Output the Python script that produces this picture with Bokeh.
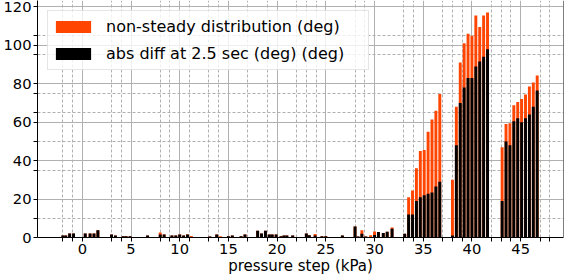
from bokeh.plotting import figure
from bokeh.models import (ColumnDataSource, FixedTicker, Legend, LegendItem, Span, Range1d)
from bokeh.embed import file_html
from bokeh.resources import INLINE

# ---------------- data ----------------
pressure = [-2.0, -1.7, -1.3, -0.9, 0.3, 0.8, 1.2, 1.6, 3.0, 3.4, 4.2, 4.5, 4.9, 6.7,
            8.0, 8.4, 9.2, 9.6, 10.0, 10.4, 10.8, 11.2, 13.1, 13.8, 14.2, 15.0, 15.4,
            16.3, 16.7, 18.0, 18.4, 18.8, 19.2, 19.5, 19.9, 20.4, 20.7, 21.0, 21.6,
            23.0, 23.3, 23.9, 24.6, 25.0, 25.4, 26.7, 28.0, 28.3, 28.7, 29.1, 29.6,
            30.0, 30.4, 30.9, 31.3, 31.8, 33.1,
            33.5, 33.9, 34.3, 34.7, 35.1, 35.5, 35.9, 36.3, 36.7,
            38.0, 38.4, 38.8, 39.2, 39.6, 40.0, 40.4, 40.8, 41.2, 41.6,
            43.1, 43.5, 43.9, 44.3, 44.7, 45.1, 45.5, 45.9, 46.3, 46.7]

non_steady = [1.0, 1.0, 2.1, 2.1, 2.1, 2.1, 2.1, 3.8, 1.6, 1.0, 0.7, 0.7, 0.7, 1.0,
              2.6, 1.6, 1.0, 1.0, 1.6, 1.0, 1.6, 0.8, 0.5, 1.6, 0.6, 0.7, 1.0,
              0.7, 1.6, 3.5, 2.1, 3.5, 1.6, 1.6, 1.6, 0.7, 1.0, 1.0, 1.0,
              2.1, 1.2, 1.8, 0.7, 0.7, 0.3, 1.0, 5.7, 0.5, 3.8, 0.5, 1.2,
              3.1, 2.8, 2.4, 3.0, 5.2, 1.9,
              21.0, 24.5, 36.0, 45.0, 45.5, 55.0, 61.4, 66.0, 74.6,
              30.0, 68.0, 91.0, 101.0, 106.0, 105.0, 115.5, 109.5, 115.5, 117.0,
              47.0, 59.0, 59.5, 68.8, 70.5, 72.0, 74.4, 78.6, 80.7, 84.3]

abs_diff = [1.0, 1.0, 2.1, 2.1, 2.1, 2.1, 2.1, 3.8, 1.6, 1.0, 0.7, 0.7, 0.7, 1.0,
            1.6, 1.6, 1.0, 1.0, 1.6, 1.0, 1.6, 0.2, 0.5, 1.6, 0.2, 0.7, 1.0,
            0.7, 1.6, 3.5, 2.1, 3.5, 1.6, 1.6, 1.6, 0.7, 1.0, 1.0, 1.0,
            2.1, 1.2, 1.0, 0.7, 0.7, 0.3, 1.0, 5.7, 0.5, 1.9, 0.5, 0.3,
            1.3, 2.8, 2.4, 3.0, 4.5, 1.9,
            12.0, 12.0, 19.0, 21.0, 22.0, 22.7, 23.4, 26.5, 29.0,
            1.0, 48.0, 70.0, 78.0, 83.0, 83.0, 89.0, 91.6, 94.0, 98.0,
            19.0, 50.0, 48.0, 60.5, 62.0, 60.0, 62.0, 64.0, 68.0, 76.5]

x_ticks = [0, 5, 10, 15, 20, 25, 30, 35, 40, 45]
x_minor_ticks = [-2, -1, 3, 4, 8, 9, 11, 13, 14, 17, 19, 22, 23, 24, 28, 29,
                 33, 34, 37, 38, 39, 42, 43, 44, 47, 48]
y_ticks = [0, 20, 40, 60, 80, 100, 120]
y_minor_ticks = [10, 35, 50, 65, 75, 95, 105]

series_labels = ["non-steady distribution (deg)", "abs diff at 2.5 sec (deg) (deg)"]
x_label = "pressure step (kPa)"

# ---------------- figure ----------------
x_start, x_end = -4.6, 49.4
y_start, y_end = 0, 123.3
FONT = "DejaVu Sans"
GRID = "#b0b0b0"

p = figure(width=564, height=278, output_backend="svg", toolbar_location=None,
           x_range=Range1d(x_start, x_end), y_range=Range1d(y_start, y_end),
           min_border_left=35, min_border_right=1, min_border_top=0, min_border_bottom=41)
p.outline_line_color = None
p.background_fill_color = "white"
p.border_fill_color = "white"

xt = FixedTicker(ticks=x_ticks, minor_ticks=x_minor_ticks)
yt = FixedTicker(ticks=y_ticks, minor_ticks=y_minor_ticks)
p.xaxis.ticker = xt
p.yaxis.ticker = yt
p.xgrid.ticker = xt
p.ygrid.ticker = yt

for g in (p.xgrid, p.ygrid):
    g.grid_line_color = GRID
    g.grid_line_width = 1
    g.minor_grid_line_color = GRID
    g.minor_grid_line_width = 1
    g.minor_grid_line_dash = "3 2"

for ax in (p.xaxis, p.yaxis):
    ax.axis_line_color = "black"
    ax.axis_line_width = 1
    ax.major_tick_line_color = "black"
    ax.minor_tick_line_color = "black"
    ax.major_tick_in = 0
    ax.major_tick_out = 4
    ax.minor_tick_in = 0
    ax.minor_tick_out = 4
    ax.major_label_text_font = FONT
    ax.major_label_text_font_size = "14.7px"
    ax.major_label_text_color = "black"
    ax.major_label_standoff = 2

p.xaxis.axis_label = x_label
p.xaxis.axis_label_text_font = FONT
p.xaxis.axis_label_text_font_size = "15px"
p.xaxis.axis_label_text_font_style = "normal"
p.xaxis.axis_label_text_color = "black"
p.xaxis.axis_label_standoff = 0

# right spine
p.add_layout(Span(location=x_end, dimension="height", line_color="black", line_width=1))

src = ColumnDataSource(dict(x=pressure, ns=non_steady, ad=abs_diff))
r1 = p.vbar(x="x", top="ns", width=0.3, source=src, fill_color="#ff4500", line_color=None)
r2 = p.vbar(x="x", top="ad", width=0.3, source=src, fill_color="black", line_color=None)

legend = Legend(items=[LegendItem(label=series_labels[0], renderers=[r1]),
                       LegendItem(label=series_labels[1], renderers=[r2])],
                location="top_left", margin=10, padding=3, spacing=2,
                glyph_width=44, glyph_height=15, label_height=25, label_width=259,
                label_standoff=11,
                label_text_font=FONT, label_text_font_size="16px", label_text_color="black",
                border_line_color="#cccccc", border_line_width=1,
                background_fill_color="white", background_fill_alpha=0.8)
p.add_layout(legend)

open("out.html", "w").write(file_html(p, INLINE))
